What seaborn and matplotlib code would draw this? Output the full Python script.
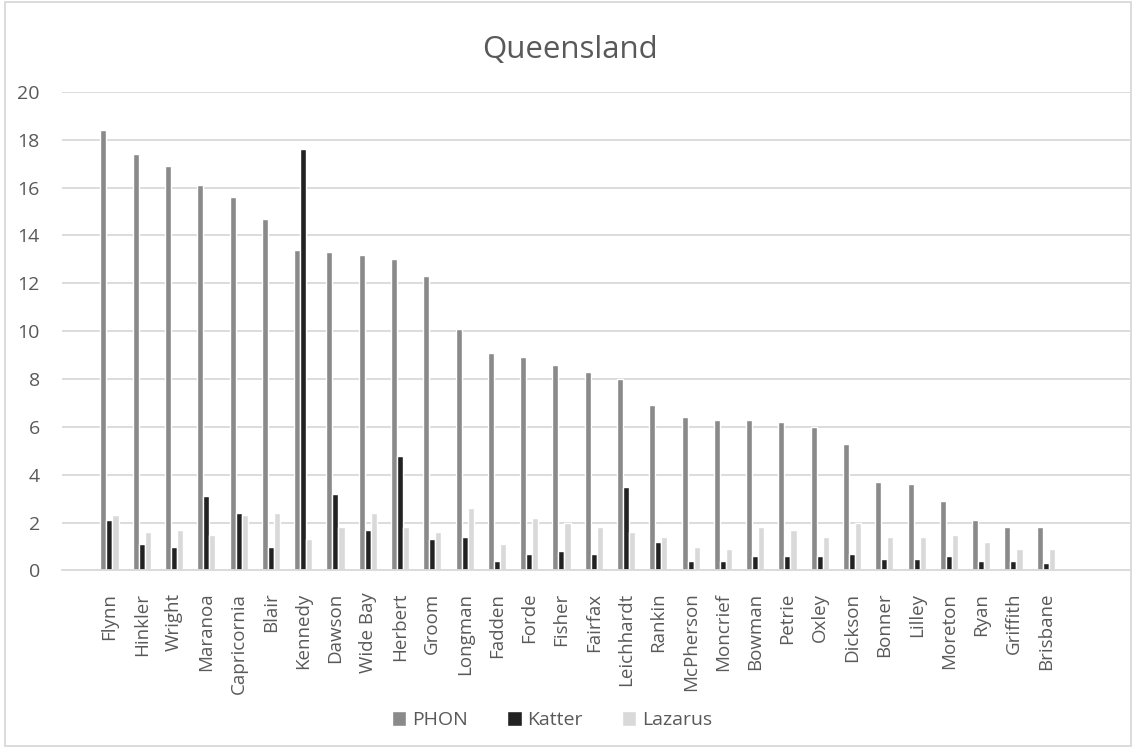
import pandas as pd
import matplotlib.pyplot as plt
from matplotlib.patches import Rectangle
import seaborn as sns

# electorates, sorted by PHON share
seats = ['Flynn', 'Hinkler', 'Wright', 'Maranoa', 'Capricornia', 'Blair', 'Kennedy',
         'Dawson', 'Wide Bay', 'Herbert', 'Groom', 'Longman', 'Fadden', 'Forde',
         'Fisher', 'Fairfax', 'Leichhardt', 'Rankin', 'McPherson', 'Moncrief',
         'Bowman', 'Petrie', 'Oxley', 'Dickson', 'Bonner', 'Lilley', 'Moreton',
         'Ryan', 'Griffith', 'Brisbane']
phon = [18.4, 17.4, 16.9, 16.1, 15.6, 14.7, 13.4, 13.3, 13.2, 13.0, 12.3, 10.1, 9.1, 8.9,
        8.6, 8.3, 8.0, 6.9, 6.4, 6.3, 6.3, 6.2, 6.0, 5.3, 3.7, 3.6, 2.9, 2.1, 1.8, 1.8]
katter = [2.1, 1.1, 1.0, 3.1, 2.4, 1.0, 17.6, 3.2, 1.7, 4.8, 1.3, 1.4, 0.4, 0.7,
          0.8, 0.7, 3.5, 1.2, 0.4, 0.4, 0.6, 0.6, 0.6, 0.7, 0.5, 0.5, 0.6, 0.4, 0.4, 0.3]
lazarus = [2.3, 1.6, 1.7, 1.5, 2.3, 2.4, 1.3, 1.8, 2.4, 1.8, 1.6, 2.6, 1.1, 2.2,
           2.0, 1.8, 1.6, 1.4, 1.0, 0.9, 1.8, 1.7, 1.4, 2.0, 1.4, 1.4, 1.5, 1.2, 0.9, 0.9]
parties = ['PHON', 'Katter', 'Lazarus']
colors = ['#8a8a8a', '#222222', '#d9d9d9']

df = pd.DataFrame({'seat': seats, 'PHON': phon, 'Katter': katter, 'Lazarus': lazarus})
long = df.melt(id_vars='seat', var_name='party', value_name='pct')

sns.set_style('white')
plt.rcParams['font.family'] = ['Open Sans', 'DejaVu Sans']
txt = '#595959'
grid = '#d9d9d9'

fig = plt.figure(figsize=(11.36, 7.48), dpi=100)
ax = fig.add_axes([0.0546, 0.2373, 0.941, 0.6400])

sns.barplot(data=long, x='seat', y='pct', hue='party', hue_order=parties,
            palette=colors, width=0.56, saturation=1, ax=ax, order=seats)

ax.set_ylim(0, 20)
ax.set_yticks(range(0, 21, 2))
ax.set_xlim(-1.47, 31.64)
ax.yaxis.grid(True, color=grid, linewidth=1.3)
ax.set_axisbelow(True)
for s in ['top', 'right', 'left']:
    ax.spines[s].set_visible(False)
ax.spines['bottom'].set_color(grid)
ax.spines['bottom'].set_linewidth(1.3)
ax.tick_params(axis='y', length=0, labelsize=14, labelcolor=txt, pad=16)
ax.tick_params(axis='x', length=0, labelsize=13.5, labelcolor=txt, pad=16, rotation=90)
ax.set_xlabel('')
ax.set_ylabel('')

fig.text(0.502, 0.933, 'Queensland', ha='center', va='center', fontsize=22.5, color=txt)

handles, labels = ax.get_legend_handles_labels()
ax.legend(handles, labels, loc='center', bbox_to_anchor=(0.486, 0.037),
          bbox_transform=fig.transFigure, ncol=3, frameon=False, fontsize=14,
          labelcolor=txt, handlelength=0.75, handleheight=0.75, handletextpad=0.3,
          columnspacing=2.0)

fig.patches.append(Rectangle((0.004, 0.003), 0.992, 0.994, transform=fig.transFigure,
                             fill=False, edgecolor=grid, linewidth=1.3))

plt.savefig('out.png', dpi=100)
